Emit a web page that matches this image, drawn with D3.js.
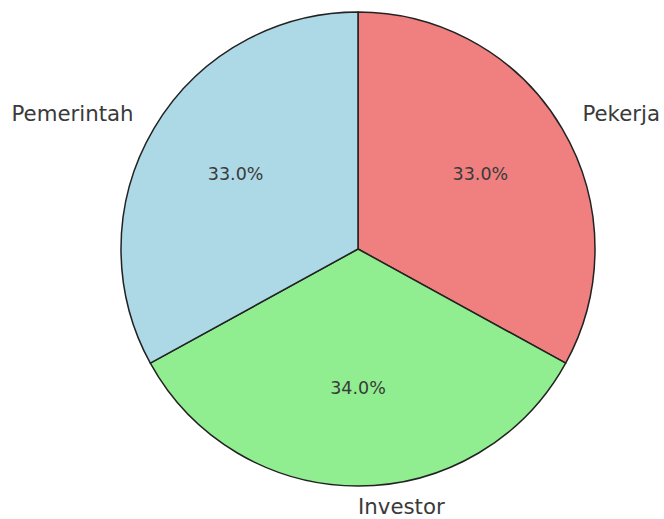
<!DOCTYPE html>
<html><head><meta charset="utf-8">
<script src="https://cdn.jsdelivr.net/npm/d3@7"></script>
<style>body{margin:0;background:#fff}</style>
</head><body>
<svg id="c" width="664" height="519"></svg>
<script>
const labels = ["Pekerja", "Investor", "Pemerintah"];
const values = [33, 34, 33];
const colors = ["#f08080", "#90ee90", "#add8e6"];

const svg = d3.select("#c");
const cx = 358, cy = 249, r = 237;
const g = svg.append("g").attr("transform", `translate(${cx},${cy})`);
const pie = d3.pie().sort(null).value(d => d.v);
const data = pie(labels.map((l, i) => ({l, v: values[i], c: colors[i]})));
const arc = d3.arc().innerRadius(0).outerRadius(r);
g.selectAll("path").data(data).join("path")
  .attr("d", arc).attr("fill", d => d.data.c)
  .attr("stroke", "#222").attr("stroke-width", 1.5).attr("stroke-linejoin", "round");
const total = d3.sum(values);
data.forEach(d => {
  const a = (d.startAngle + d.endAngle) / 2;
  const sx = Math.sin(a), sy = -Math.cos(a);
  g.append("text").attr("x", sx * r * 0.6).attr("y", sy * r * 0.6 - 3)
    .attr("text-anchor", "middle").attr("dominant-baseline", "central")
    .attr("font-family", "DejaVu Sans").attr("font-size", 17.5).attr("fill", "#3a3a3a")
    .text((d.data.v / total * 100).toFixed(1) + "%");
  const lx = sx * r * 1.1, ly = sy * r * 1.1 - 3;
  g.append("text").attr("x", lx).attr("y", ly)
    .attr("text-anchor", sx >= -1e-6 ? "start" : "end")
    .attr("dominant-baseline", "central")
    .attr("font-family", "DejaVu Sans").attr("font-size", 21.3).attr("fill", "#3a3a3a")
    .text(d.data.l);
});
</script>
</body></html>
